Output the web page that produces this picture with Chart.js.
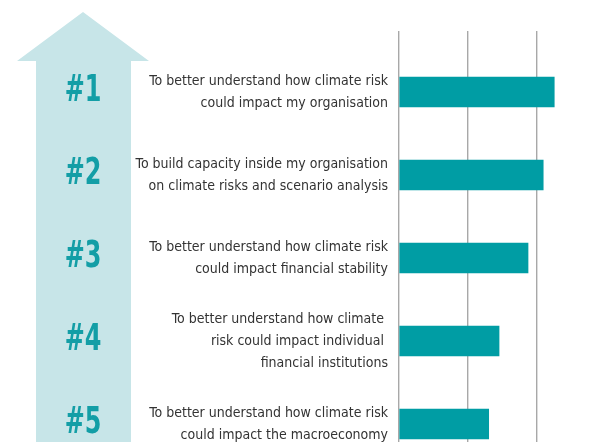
<!DOCTYPE html>
<html>
<head>
<meta charset="utf-8">
<script src="https://cdn.jsdelivr.net/npm/chart.js@4"></script>
<style>
  html, body { margin: 0; padding: 0; background: #fff; overflow: hidden; }
  #wrap { width: 606px; height: 442px; }
</style>
</head>
<body>
<div id="wrap"><canvas id="mainChart" width="606" height="442"></canvas></div>
<script>
// ranking of reasons, top to bottom
const RANKS = ['#1', '#2', '#3', '#4', '#5'];
const REASONS = [
  ['To better understand how climate risk', 'could impact my organisation'],
  ['To build capacity inside my organisation', 'on climate risks and scenario analysis'],
  ['To better understand how climate risk', 'could impact financial stability'],
  ['To better understand how climate ', 'risk could impact individual ', 'financial institutions'],
  ['To better understand how climate risk', 'could impact the macroeconomy']
];
const SCORES = [22.5, 20.9, 18.7, 14.5, 13.0];
const X_TICKS = [0, 10, 20, 30];

const TEAL = '#009da4';
const FONT = '"DejaVu Sans Condensed", "DejaVu Sans", sans-serif';

// big up arrow behind the rank numbers, plus the numbers on top
const rankArrow = {
  id: 'rankArrow',
  beforeDraw(chart) {
    const { ctx } = chart;
    const h = chart.height;
    ctx.save();
    ctx.fillStyle = '#c7e5e8';
    ctx.beginPath();
    ctx.moveTo(83, 12);
    ctx.lineTo(149, 61);
    ctx.lineTo(131, 61);
    ctx.lineTo(131, h);
    ctx.lineTo(36, h);
    ctx.lineTo(36, 61);
    ctx.lineTo(17, 61);
    ctx.closePath();
    ctx.fill();
    ctx.restore();
  },
  afterDraw(chart) {
    const { ctx } = chart;
    const y = chart.scales.y;
    ctx.save();
    ctx.fillStyle = '#139ea6';
    ctx.font = 'bold 38px ' + FONT;
    ctx.textAlign = 'center';
    ctx.textBaseline = 'middle';
    RANKS.forEach((r, i) => {
      ctx.save();
      ctx.translate(83, y.getPixelForValue(i) - 1);
      ctx.scale(0.7, 1); // squeeze into a condensed look
      ctx.fillText(r, 0, 0);
      ctx.restore();
    });
    ctx.restore();
  }
};

new Chart(document.getElementById('mainChart'), {
  type: 'bar',
  data: {
    datasets: [{
      data: SCORES.map((v, i) => ({ x: v, y: i })),
      backgroundColor: TEAL,
      barThickness: 30
    }]
  },
  options: {
    indexAxis: 'y',
    responsive: false,
    animation: false,
    layout: { padding: { top: 31, left: 0, right: 0, bottom: 0 } },
    plugins: { legend: { display: false }, tooltip: { enabled: false } },
    scales: {
      x: {
        type: 'linear',
        min: X_TICKS[0],
        max: X_TICKS[X_TICKS.length - 1],
        afterBuildTicks: s => { s.ticks = X_TICKS.map(v => ({ value: v })); },
        afterFit: s => { s.height = 0; s.paddingLeft = 0; s.paddingRight = 0; },
        ticks: { display: false },
        border: { display: false },
        grid: { color: '#a8a8a8', lineWidth: 1.4, drawTicks: false }
      },
      y: {
        type: 'linear',
        reverse: true,
        offset: false,
        min: -0.735,
        max: 4.217,
        afterBuildTicks: s => { s.ticks = REASONS.map((_, i) => ({ value: i })); },
        afterFit: s => { s.width = 399; s.paddingTop = 0; s.paddingBottom = 0; },
        border: { display: false },
        grid: { display: false, drawTicks: false },
        ticks: {
          autoSkip: false,
          padding: 11,
          color: '#333333',
          font: { family: FONT, size: 14, lineHeight: 1.57 },
          callback: v => REASONS[v]
        }
      }
    }
  },
  plugins: [rankArrow]
});
</script>
</body>
</html>
